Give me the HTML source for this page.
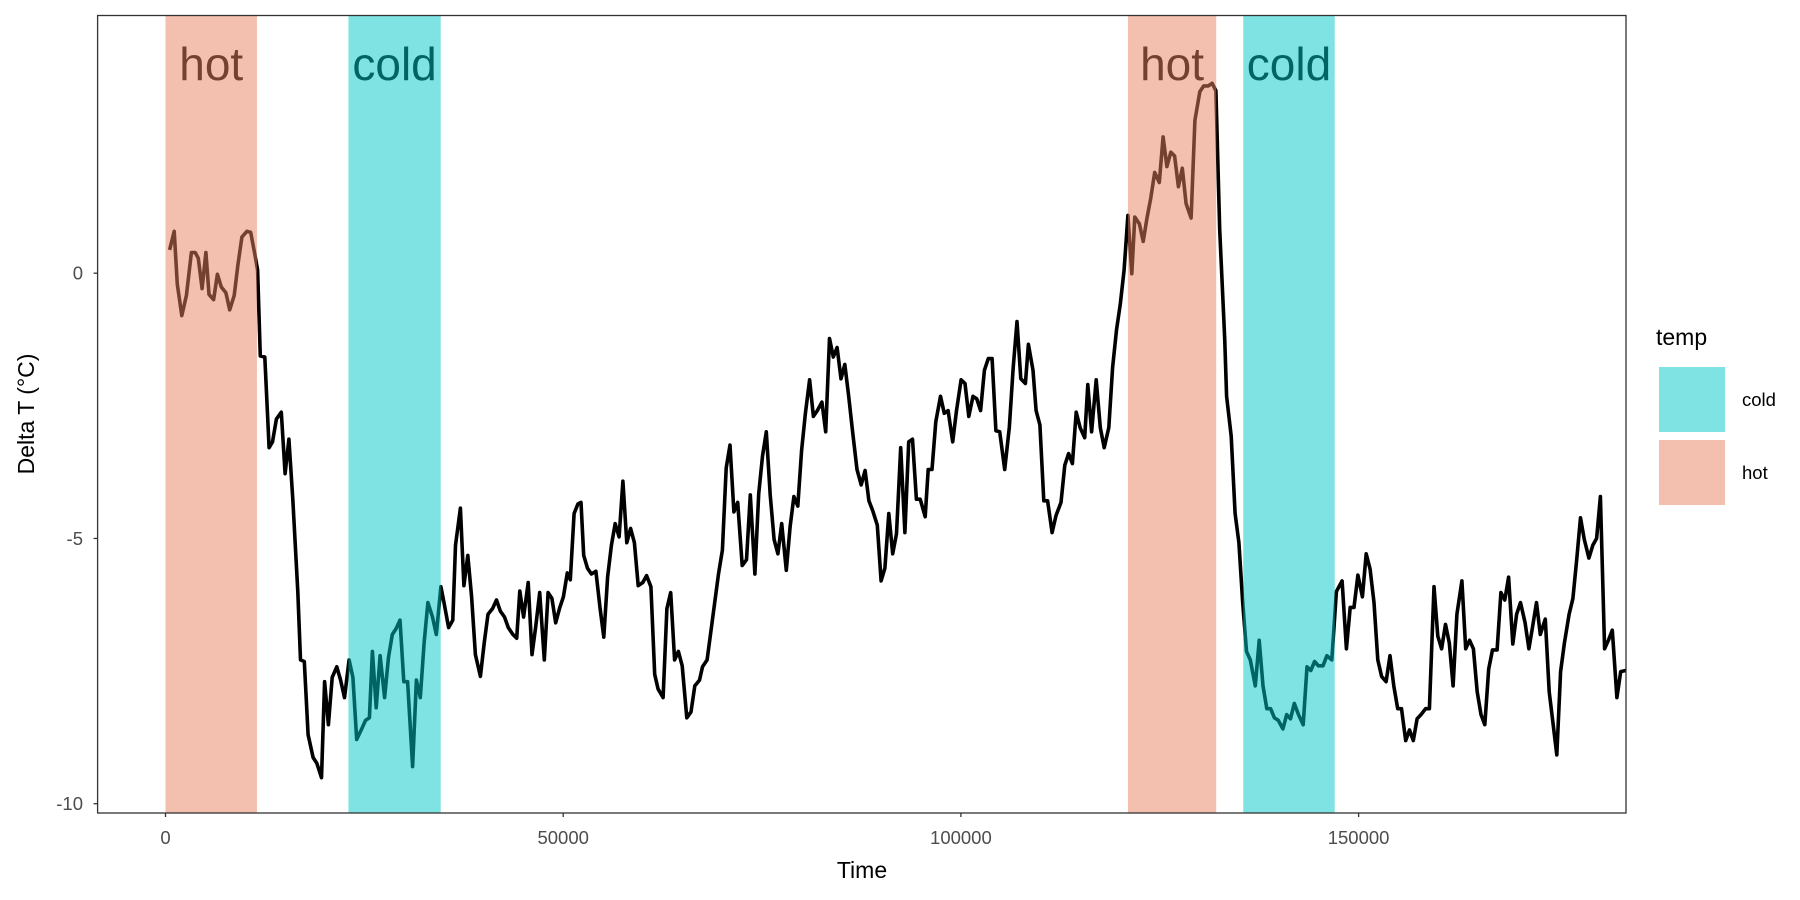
<!DOCTYPE html>
<html><head><meta charset="utf-8"><style>
html,body{margin:0;padding:0;background:#fff;}
svg{display:block;font-family:"Liberation Sans",Arial,sans-serif;}
</style></head><body>
<svg id="chart" width="1800" height="900" viewBox="0 0 1800 900"></svg>
<script>
const times = [0.51,1.09,1.48,2.05,2.63,3.26,3.74,4.12,4.60,5.08,5.47,6.05,6.53,7.01,7.59,8.07,8.64,9.12,9.61,10.23,10.71,11.19,11.58,11.92,12.49,13.02,13.45,13.94,14.56,15.04,15.52,16.00,16.63,16.97,17.45,17.93,18.56,19.04,19.61,20.00,20.48,20.96,21.54,22.02,22.50,23.08,23.56,24.04,24.67,25.15,25.63,26.01,26.49,26.98,27.55,28.03,28.51,28.99,29.48,29.96,30.44,31.07,31.55,32.03,32.51,32.99,33.57,34.05,34.63,35.02,35.59,36.12,36.46,37.08,37.52,38.00,38.48,38.96,39.59,40.07,40.55,41.13,41.61,42.09,42.62,43.10,43.67,44.16,44.54,45.02,45.60,46.08,46.56,47.04,47.62,48.10,48.58,49.06,49.54,50.03,50.51,50.89,51.37,51.85,52.24,52.58,53.06,53.54,54.11,54.64,
55.10,55.58,56.06,56.54,57.03,57.51,57.99,58.47,58.95,59.43,60.01,60.49,61.02,61.50,61.93,62.56,63.04,63.52,64.00,64.48,64.96,65.54,66.07,66.55,67.13,67.51,68.09,68.57,69.05,69.53,70.01,70.49,70.97,71.46,71.94,72.51,73.04,73.52,74.10,74.58,75.06,75.54,76.02,76.51,76.99,77.47,78.05,78.53,79.01,79.49,79.97,80.45,80.98,81.46,81.94,82.52,83.00,83.48,83.96,84.44,84.92,85.40,85.89,86.37,86.94,87.47,87.95,88.43,88.92,89.49,89.97,90.45,90.94,91.42,91.90,92.43,92.96,93.44,93.92,94.40,94.88,95.51,95.89,96.37,96.85,97.43,97.91,98.39,98.97,99.45,100.03,100.51,100.99,101.52,102.00,102.48,102.96,103.44,103.92,104.40,104.88,105.51,106.09,106.57,107.05,107.53,108.11,108.49,109.07,109.45,109.93,110.42,110.90,111.47,111.96,112.58,113.06,113.54,114.02,114.50,114.99,115.56,115.95,116.43,117.01,117.53,118.02,118.59,119.07,119.56,120.04,120.52,121.00,121.48,121.86,122.44,122.92,123.40,123.88,124.37,124.94,125.42,125.90,126.39,126.87,127.35,127.83,128.31,128.94,129.42,130.04,
130.52,131.10,131.58,132.06,132.54,133.17,133.41,133.98,134.47,134.95,135.43,135.91,136.39,137.01,137.50,137.98,138.46,138.94,139.42,139.90,140.48,140.96,141.44,141.92,142.45,143.03,143.51,143.99,144.47,144.95,145.53,146.01,146.63,147.21,147.93,148.46,148.94,149.42,149.91,150.48,150.96,151.44,151.93,152.41,152.89,153.46,153.95,154.43,154.91,155.39,155.92,156.40,156.88,157.36,157.84,158.42,158.90,159.48,159.96,160.44,160.92,161.40,161.88,162.36,162.99,163.47,163.95,164.43,164.91,165.39,165.87,166.36,166.84,167.41,167.89,168.38,168.86,169.39,169.87,170.35,170.93,171.41,171.89,172.37,172.85,173.47,173.96,174.44,174.92,175.40,175.88,176.46,176.94,177.42,177.90,178.38,178.96,179.44,179.92,180.40,180.93,181.41,181.89,182.47,182.95,183.58,184.0];
const deltaT = [0.44,0.79,-0.21,-0.80,-0.42,0.39,0.39,0.28,-0.29,0.39,-0.40,-0.50,-0.02,-0.26,-0.37,-0.69,-0.42,0.17,0.68,0.79,0.77,0.39,0.06,-1.56,-1.58,-3.29,-3.18,-2.75,-2.62,-3.78,-3.13,-4.26,-6.00,-7.29,-7.32,-8.70,-9.13,-9.24,-9.51,-7.70,-8.51,-7.62,-7.42,-7.67,-8.00,-7.29,-7.62,-8.79,-8.59,-8.43,-8.38,-7.13,-8.19,-7.21,-8.00,-7.24,-6.81,-6.70,-6.54,-7.70,-7.70,-9.30,-7.67,-8.00,-6.97,-6.21,-6.48,-6.81,-5.91,-6.21,-6.68,-6.54,-5.13,-4.43,-5.89,-5.32,-6.10,-7.19,-7.60,-6.97,-6.43,-6.32,-6.16,-6.37,-6.48,-6.68,-6.81,-6.88,-5.99,-6.48,-5.83,-7.19,-6.65,-6.02,-7.29,-6.02,-6.13,-6.59,-6.32,-6.10,-5.65,-5.78,-4.53,-4.35,-4.32,-5.32,-5.56,-5.67,-5.62,-6.32,
-6.86,-5.73,-5.13,-4.72,-4.97,-3.92,-5.08,-4.81,-5.08,-5.89,-5.83,-5.70,-5.91,-7.56,-7.84,-8.00,-6.32,-6.02,-7.29,-7.13,-7.40,-8.38,-8.27,-7.78,-7.67,-7.42,-7.29,-6.75,-6.21,-5.67,-5.22,-3.67,-3.24,-4.50,-4.32,-5.51,-5.40,-4.18,-5.67,-4.16,-3.45,-2.99,-4.18,-5.02,-5.29,-4.72,-5.60,-4.78,-4.21,-4.39,-3.34,-2.64,-2.01,-2.70,-2.59,-2.43,-2.99,-1.23,-1.58,-1.40,-1.99,-1.72,-2.32,-2.97,-3.70,-3.99,-3.72,-4.29,-4.48,-4.75,-5.80,-5.56,-4.53,-5.29,-4.91,-3.29,-4.89,-3.18,-3.13,-4.26,-4.26,-4.59,-3.70,-3.70,-2.80,-2.32,-2.64,-2.59,-3.18,-2.59,-2.01,-2.08,-2.70,-2.32,-2.37,-2.59,-1.83,-1.61,-1.61,-2.97,-2.99,-3.70,-2.91,-1.78,-0.91,-1.99,-2.08,-1.34,-1.83,-2.59,-2.86,-4.29,-4.29,-4.89,-4.57,-4.32,-3.62,-3.40,-3.59,-2.62,-2.91,-3.10,-2.10,-2.99,-2.01,-2.91,-3.29,-2.91,-1.78,-1.07,-0.58,0.06,1.09,-0.01,1.06,0.93,0.60,1.04,1.42,1.90,1.71,2.57,2.01,2.28,2.21,1.63,1.98,1.31,1.04,2.88,3.42,
3.53,3.53,3.58,3.44,0.82,-1.23,-2.32,-3.07,-4.53,-5.08,-6.21,-7.13,-7.29,-7.78,-6.92,-7.78,-8.21,-8.21,-8.38,-8.43,-8.59,-8.32,-8.40,-8.11,-8.32,-8.51,-7.42,-7.49,-7.32,-7.40,-7.40,-7.21,-7.29,-6.00,-5.80,-7.08,-6.30,-6.30,-5.69,-6.10,-5.29,-5.58,-6.21,-7.29,-7.60,-7.70,-7.21,-7.78,-8.21,-8.21,-8.81,-8.61,-8.81,-8.40,-8.32,-8.21,-8.21,-5.91,-6.84,-7.08,-6.62,-6.97,-7.78,-6.43,-5.80,-7.08,-6.92,-7.08,-7.89,-8.32,-8.51,-7.46,-7.10,-7.10,-6.02,-6.16,-5.73,-6.99,-6.43,-6.21,-6.59,-7.08,-6.65,-6.21,-6.81,-6.52,-7.89,-8.48,-9.08,-7.51,-6.97,-6.43,-6.13,-5.40,-4.61,-5.02,-5.37,-5.13,-5.00,-4.21,-7.08,-6.92,-6.73,-8.00,-7.51,-7.49,-7.45];
const bandTypes = ["hot","cold","hot","cold"];
const bandStarts = [0, 23.0, 121.0, 135.5];
const bandEnds = [11.5, 34.6, 132.1, 147.0];
const xTicks = [0, 50000, 100000, 150000];
const yTicks = [0, -5, -10];

const NS = "http://www.w3.org/2000/svg";
const svg = document.getElementById("chart");
const P = {l:97.6, r:1626, t:15.5, b:813};
const xs = kyr => 165.5 + kyr * 7.954;
const ys = v => 273.2 - 53.05 * v;
const HOT = "#E8825F", COLD = "#00C8C8";
function mk(tag, attrs, parent){const e=document.createElementNS(NS,tag);for(const k in attrs)e.setAttribute(k,attrs[k]);(parent||svg).appendChild(e);return e;}

const clip = mk("clipPath",{id:"pc"}, mk("defs",{}));
mk("rect",{x:P.l,y:P.t,width:P.r-P.l,height:P.b-P.t},clip);

const plot = mk("g",{"clip-path":"url(#pc)"});



bandTypes.forEach((b,i)=>{
  const t = mk("text",{x:(xs(bandStarts[i])+xs(bandEnds[i]))/2,y:80,"text-anchor":"middle","font-size":"46",fill:"#000"},plot);
  t.textContent = b;
  
  
});

let d = "";
times.forEach((t,i)=>{ d += (i?"L":"M") + xs(t).toFixed(1) + "," + ys(deltaT[i]).toFixed(1); });
const line = mk("path",{d:d,fill:"none",stroke:"#000","stroke-width":"3.6","stroke-linejoin":"round"},plot);



bandTypes.forEach((b,i)=>{
  const r = mk("rect",{x:xs(bandStarts[i]),y:P.t,width:xs(bandEnds[i])-xs(bandStarts[i]),height:P.b-P.t,fill:b==="hot"?HOT:COLD,"fill-opacity":"0.5"},plot);
  
  
});

const frame = mk("rect",{x:P.l,y:P.t,width:P.r-P.l,height:P.b-P.t,fill:"none",stroke:"#333","stroke-width":"1.3"});



xTicks.forEach(v=>{
  const x = xs(v/1000);
  const tk = mk("line",{x1:x,x2:x,y1:P.b,y2:P.b+4,stroke:"#333","stroke-width":"1.3"});
  
  
  const tl = mk("text",{x:x,y:844,"text-anchor":"middle","font-size":"18.5",fill:"#4D4D4D"});
  tl.textContent = v;
  
  
});
yTicks.forEach(v=>{
  const y = ys(v);
  const tk = mk("line",{x1:P.l-4,x2:P.l,y1:y,y2:y,stroke:"#333","stroke-width":"1.3"});
  
  
  const tl = mk("text",{x:83,y:y+6.5,"text-anchor":"end","font-size":"18.5",fill:"#4D4D4D"});
  tl.textContent = v;
  
  
});
</script>
<svg style="position:absolute;left:0;top:0" width="1800" height="900">
  <text x="862" y="878" text-anchor="middle" font-size="23" font-family="Liberation Sans, sans-serif" fill="#000">Time</text>
  <text transform="translate(34,414) rotate(-90)" text-anchor="middle" font-size="23" font-family="Liberation Sans, sans-serif" fill="#000">Delta T (°C)</text>
  <text x="1656" y="345" font-size="23" font-family="Liberation Sans, sans-serif" fill="#000">temp</text>
  <rect x="1659" y="367" width="66" height="65" fill="#00C8C8" fill-opacity="0.5"/>
  <rect x="1659" y="440" width="66" height="65" fill="#E8825F" fill-opacity="0.5"/>
  <text x="1742" y="406" font-size="18.5" font-family="Liberation Sans, sans-serif" fill="#000">cold</text>
  <text x="1742" y="479" font-size="18.5" font-family="Liberation Sans, sans-serif" fill="#000">hot</text>
</svg>
</body></html>
